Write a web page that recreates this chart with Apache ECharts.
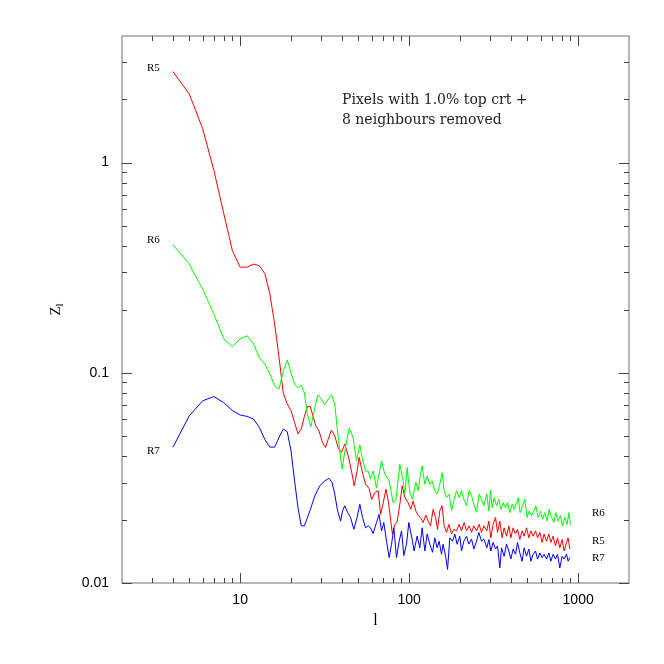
<!DOCTYPE html>
<html>
<head>
<meta charset="UTF-8">
<title>Z_l against l</title>
<script type="text/javascript" src="https://cdn.jsdelivr.net/npm/echarts@6/dist/echarts.min.js"></script>
</head>
<body style="margin:0;background:#fff;">
<div id="container" style="width:664px;height:664px;"></div>
<script type="text/javascript">
// axis ranges and ticks
var X_MIN = 2, X_MAX = 2000;
var Y_MIN = 0.01, Y_MAX = 4;
var X_MAJOR = [10, 100, 1000];
var X_LABELS = ['10', '100', '1000'];
var X_MINOR = [3, 4, 5, 6, 7, 8, 9, 20, 30, 40, 50, 60, 70, 80, 90, 200, 300, 400, 500, 600, 700, 800, 900];
var Y_MAJOR = [0.01, 0.1, 1];
var Y_LABELS = ['0.01', '0.1', '1'];
var Y_MINOR = [0.02, 0.03, 0.04, 0.05, 0.06, 0.07, 0.08, 0.09, 0.2, 0.3, 0.4, 0.5, 0.6, 0.7, 0.8, 0.9, 2, 3];

// [l, Z_l]
var R5 = [
  [4, 2.71], [5, 2.12], [6, 1.45], [7, 0.916], [8, 0.572], [9, 0.381], [10, 0.318], [11, 0.318], [12, 0.329],
  [13, 0.323], [14, 0.296], [15, 0.237], [16, 0.171], [17, 0.118], [18, 0.080], [19, 0.0711], [20, 0.0661],
  [21, 0.058], [22, 0.0512], [23, 0.054], [24, 0.062], [25, 0.069], [26, 0.069], [26.8, 0.0636], [28.0, 0.056],
  [29.3, 0.0529], [30.7, 0.0466], [32.0, 0.0441], [33.2, 0.0483], [34.7, 0.0534], [36.3, 0.0501], [38.0, 0.0441],
  [39.8, 0.0418], [41.6, 0.0458], [43.6, 0.0403], [45.6, 0.0341], [47.3, 0.0290], [49.2, 0.0341], [50.6, 0.0396],
  [52.7, 0.0341], [55.2, 0.0295], [57.9, 0.0282], [60.0, 0.0250], [62.7, 0.0269], [65.6, 0.0275], [67.8, 0.0212],
  [70.3, 0.0241], [72.9, 0.0279], [75.3, 0.0245], [77.9, 0.0197], [79.6, 0.0171], [82.3, 0.0190], [84.8, 0.0194],
  [88.1, 0.0237], [91.0, 0.0290], [94.3, 0.0255], [98.6, 0.0241], [102.3, 0.0224], [105.6, 0.0245], [109.6, 0.0220],
  [113.1, 0.0210], [116.8, 0.0205], [121.0, 0.0194], [125.6, 0.0210], [129.6, 0.0197], [133.9, 0.0187], [138.7, 0.0224],
  [143.3, 0.0205], [147.3, 0.0180], [151.9, 0.0221], [156.8, 0.0233], [161.1, 0.0187], [166.5, 0.0174], [171.8, 0.0190],
  [178.2, 0.0171], [183.9, 0.0180], [190.8, 0.0177], [197.6, 0.0190], [204.2, 0.0177], [211.6, 0.0194], [218.6, 0.0177],
  [226.5, 0.0187], [234.1, 0.0174], [241.5, 0.0187], [250.5, 0.0177], [259.5, 0.0190], [268.1, 0.0174], [276.7, 0.0187],
  [288.2, 0.0177], [296.2, 0.0197], [304.4, 0.0164], [314.1, 0.0190], [324.6, 0.0205], [333.6, 0.0174], [344.1, 0.0197],
  [355.0, 0.0164], [364.8, 0.0183], [377.0, 0.0167], [389.1, 0.0187], [399.8, 0.0164], [412.5, 0.0183], [426.3, 0.0171],
  [438.0, 0.0180], [451.9, 0.0161], [466.3, 0.0177], [479.2, 0.0167], [495.1, 0.0183], [510.9, 0.0164], [525.0, 0.0177],
  [541.7, 0.0167], [559.7, 0.0177], [575.2, 0.0164], [593.4, 0.0174], [612.3, 0.0156], [629.2, 0.0171], [650.2, 0.0158],
  [670.8, 0.0171], [689.3, 0.0156], [711.3, 0.0167], [735.0, 0.0150], [755.3, 0.0164], [779.3, 0.0147], [804.1, 0.0161],
  [826.3, 0.0142], [853.7, 0.0156], [872.6, 0.0164], [893.0, 0.0145]
];
var R6 = [
  [4, 0.407], [5, 0.329], [6, 0.250], [7, 0.190], [8, 0.145], [9, 0.133], [10, 0.145], [11, 0.150], [12, 0.137],
  [13, 0.118], [14, 0.110], [15, 0.0986], [16, 0.0866], [17, 0.0837], [18, 0.102], [19, 0.115], [20, 0.100],
  [21, 0.088], [22, 0.085], [23, 0.087], [24, 0.080], [25, 0.0636], [26.2, 0.0553], [27.7, 0.0684], [28.9, 0.0786],
  [30.3, 0.0749], [31.7, 0.0704], [33.2, 0.0749], [34.7, 0.0786], [36.3, 0.0710], [37.5, 0.0549], [38.9, 0.0425],
  [40.1, 0.0348], [42.0, 0.0441], [44.2, 0.0545], [46.6, 0.0492], [48.8, 0.0381], [51.1, 0.0454], [52.7, 0.0395],
  [55.2, 0.0341], [57.2, 0.0341], [59.1, 0.0312], [61.2, 0.0341], [64.1, 0.0284], [68.7, 0.0381], [71.8, 0.0329],
  [76.2, 0.0306], [80.4, 0.0241], [83.4, 0.0246], [88.1, 0.0367], [92.2, 0.0306], [94.3, 0.0265], [97.3, 0.0354],
  [101.0, 0.0268], [104.7, 0.0250], [109.6, 0.0301], [113.1, 0.0275], [116.8, 0.0329], [119.4, 0.0361], [123.9, 0.0295],
  [127.8, 0.0323], [132.6, 0.0295], [136.8, 0.0306], [141.9, 0.0275], [146.5, 0.0265], [151.9, 0.0295], [156.8, 0.0335],
  [161.1, 0.0275], [166.5, 0.0255], [172.5, 0.0265], [178.2, 0.0221], [183.9, 0.0246], [190.8, 0.0275], [197.6, 0.0255],
  [204.2, 0.0275], [210.7, 0.0250], [218.6, 0.0233], [226.5, 0.0275], [234.1, 0.0260], [241.5, 0.0237], [250.5, 0.0217],
  [259.5, 0.0265], [268.1, 0.0250], [276.7, 0.0233], [288.2, 0.0265], [296.2, 0.0220], [303.2, 0.0276], [309.9, 0.0228],
  [318.4, 0.0255], [329.0, 0.0233], [339.5, 0.0250], [348.8, 0.0224], [359.9, 0.0241], [371.9, 0.0228], [382.2, 0.0241],
  [394.4, 0.0216], [406.9, 0.0237], [418.2, 0.0224], [432.1, 0.0241], [441.6, 0.0255], [453.8, 0.0216], [468.8, 0.0233],
  [483.8, 0.0250], [499.2, 0.0205], [513.0, 0.0220], [530.0, 0.0209], [546.9, 0.0220], [562.0, 0.0233], [579.9, 0.0205],
  [599.1, 0.0220], [615.6, 0.0201], [635.3, 0.0216], [655.5, 0.0197], [673.5, 0.0224], [695.9, 0.0205], [718.2, 0.0194],
  [738.0, 0.0216], [761.5, 0.0197], [786.8, 0.0209], [808.5, 0.0187], [834.2, 0.0205], [860.7, 0.0190], [880.9, 0.0216],
  [901.6, 0.0190]
];
var R7 = [
  [4, 0.0442], [5, 0.0624], [6, 0.0736], [7, 0.0771], [8, 0.0721], [9, 0.0661], [10, 0.0630], [11, 0.0620], [12, 0.0603],
  [13, 0.0549], [14, 0.0482], [15, 0.0443], [16, 0.0443], [17, 0.0493], [18, 0.0540], [19, 0.0524], [20, 0.0426],
  [21, 0.0306], [22, 0.0228], [23, 0.0187], [24, 0.0187], [25.9, 0.0221], [27.7, 0.0260], [29.6, 0.0290], [31.7, 0.0306],
  [33.5, 0.0315], [35.0, 0.0301], [36.3, 0.0265], [37.7, 0.0221], [39.3, 0.0197], [40.4, 0.0221], [41.6, 0.0233],
  [43.2, 0.0217], [45.0, 0.0205], [47.1, 0.0180], [49.2, 0.0205], [51.1, 0.0237], [53.0, 0.0205], [55.2, 0.0183],
  [57.2, 0.0187], [59.1, 0.0183], [61.2, 0.0172], [64.1, 0.0194], [66.4, 0.0212], [68.7, 0.0177], [70.8, 0.0194],
  [73.5, 0.0158], [76.2, 0.0132], [78.7, 0.0153], [81.2, 0.0183], [84.2, 0.0132], [87.3, 0.0158], [90.2, 0.0177],
  [93.0, 0.0135], [96.5, 0.0153], [99.6, 0.0194], [104.7, 0.0158], [107.0, 0.0142], [111.5, 0.0167], [115.7, 0.0147],
  [119.4, 0.0183], [123.9, 0.0142], [127.8, 0.0171], [132.6, 0.0153], [137.6, 0.0140], [141.9, 0.0164], [146.5, 0.0147],
  [150.5, 0.0158], [155.5, 0.0137], [158.9, 0.0153], [164.9, 0.0132], [168.8, 0.0116], [174.1, 0.0164], [180.7, 0.0158],
  [186.4, 0.0171], [192.3, 0.0153], [199.5, 0.0167], [204.2, 0.0142], [210.7, 0.0158], [218.6, 0.0167], [225.6, 0.0153],
  [234.1, 0.0162], [241.5, 0.0145], [250.5, 0.0158], [258.5, 0.0174], [268.1, 0.0158], [276.7, 0.0162], [288.2, 0.0147],
  [296.2, 0.0161], [304.4, 0.0142], [314.1, 0.0156], [324.6, 0.0145], [333.6, 0.0150], [344.1, 0.0118], [352.2, 0.0147],
  [364.8, 0.0134], [377.0, 0.0153], [389.1, 0.0142], [399.8, 0.0130], [412.5, 0.0145], [426.3, 0.0137], [438.0, 0.0156],
  [451.9, 0.0139], [466.3, 0.0127], [479.2, 0.0147], [495.1, 0.0134], [510.9, 0.0145], [525.0, 0.0127], [541.7, 0.0137],
  [559.7, 0.0142], [575.2, 0.0130], [593.4, 0.0139], [612.3, 0.0132], [629.2, 0.0137], [650.2, 0.0130], [670.8, 0.0139],
  [689.3, 0.0127], [711.3, 0.0137], [735.0, 0.0130], [755.3, 0.0137], [779.3, 0.0118], [804.1, 0.0134], [826.3, 0.0130],
  [853.7, 0.0137], [872.6, 0.0127], [893.0, 0.0132]
];

var dom = document.getElementById('container');
var myChart = echarts.init(dom, null, {renderer: 'canvas'});

function pickLabel(v, ticks, labels) {
  for (var i = 0; i < ticks.length; i++) {
    if (Math.abs(Math.log10(v / ticks[i])) < 1e-6) return labels[i];
  }
  return '';
}

// tick marks on all four sides, pointing in (major long, minor short)
var tickData = [];
X_MAJOR.forEach(function (v) { tickData.push([v, Y_MIN, 0, 1]); });
X_MINOR.forEach(function (v) { tickData.push([v, Y_MIN, 0, 0]); });
Y_MAJOR.forEach(function (v) { tickData.push([X_MIN, v, 1, 1]); });
Y_MINOR.forEach(function (v) { tickData.push([X_MIN, v, 1, 0]); });

function renderTick(params, api) {
  var cs = params.coordSys;
  var p = api.coord([api.value(0), api.value(1)]);
  var len = api.value(3) ? 10 : 5;
  var segs;
  if (api.value(2) === 0) {
    var x = Math.round(p[0]) + 0.5;
    var b = cs.y + cs.height;
    segs = [[x, b, x, b - len], [x, cs.y, x, cs.y + len]];
  } else {
    var y = Math.round(p[1]) + 0.5;
    var r = cs.x + cs.width;
    segs = [[cs.x, y, cs.x + len, y], [r, y, r - len, y]];
  }
  return {
    type: 'group',
    children: segs.map(function (s) {
      return {type: 'line', shape: {x1: s[0], y1: s[1], x2: s[2], y2: s[3]}, style: {stroke: '#444', lineWidth: 1}};
    })
  };
}

function tag(text, x, y) {
  return {type: 'text', x: x, y: y, silent: true,
    style: {text: text, font: '11px "Liberation Serif"', fill: '#000', verticalAlign: 'middle'}};
}

var option = {
  animation: false,
  backgroundColor: '#fff',
  grid: {left: 122, top: 36, right: 35, bottom: 81, show: true, borderColor: '#a0a0a0', borderWidth: 1.5},
  xAxis: {
    type: 'log', logBase: 10, min: X_MIN, max: X_MAX,
    name: 'l', nameLocation: 'middle', nameGap: 30,
    nameTextStyle: {fontFamily: 'Liberation Serif', fontSize: 16, color: '#000'},
    axisLine: {show: false}, axisTick: {show: false}, splitLine: {show: false},
    axisLabel: {
      margin: 10, color: '#000', fontFamily: 'Liberation Sans', fontSize: 14,
      formatter: function (v) { return pickLabel(v, X_MAJOR, X_LABELS); }
    }
  },
  yAxis: {
    type: 'log', logBase: 10, min: Y_MIN, max: Y_MAX,
    name: '{z|Z}{s|l}', nameLocation: 'middle', nameGap: 56, nameRotate: 90,
    nameTextStyle: {
      color: '#000',
      rich: {
        z: {fontFamily: 'Liberation Serif', fontSize: 15, lineHeight: 20, color: '#000'},
        s: {fontFamily: 'Liberation Serif', fontSize: 11, lineHeight: 11, verticalAlign: 'bottom', color: '#000'}
      }
    },
    axisLine: {show: false}, axisTick: {show: false}, splitLine: {show: false},
    axisLabel: {
      margin: 13, color: '#000', fontFamily: 'Liberation Sans', fontSize: 14,
      formatter: function (v) { return pickLabel(v, Y_MAJOR, Y_LABELS); }
    }
  },
  graphic: [
    {type: 'text', left: 342, top: 90, silent: true,
      style: {text: 'Pixels with 1.0% top crt +\n8 neighbours removed', font: '14px "DejaVu Serif"', fill: '#222', lineHeight: 20}},
    tag('R5', 147, 68), tag('R6', 147, 240), tag('R7', 147, 451),
    tag('R6', 592, 513), tag('R5', 592, 541), tag('R7', 592, 558)
  ],
  series: [
    {name: 'R5', type: 'line', data: R5, showSymbol: false, symbol: 'none', color: '#ff0000', lineStyle: {width: 1, color: '#ff0000'}, z: 2},
    {name: 'R6', type: 'line', data: R6, showSymbol: false, symbol: 'none', color: '#00ff00', lineStyle: {width: 1, color: '#00ff00'}, z: 2},
    {name: 'R7', type: 'line', data: R7, showSymbol: false, symbol: 'none', color: '#0000ff', lineStyle: {width: 1, color: '#0000ff'}, z: 2},
    {type: 'custom', renderItem: renderTick, data: tickData, encode: {x: 0, y: 1}, silent: true, z: 3}
  ]
};

myChart.setOption(option);
</script>
</body>
</html>
